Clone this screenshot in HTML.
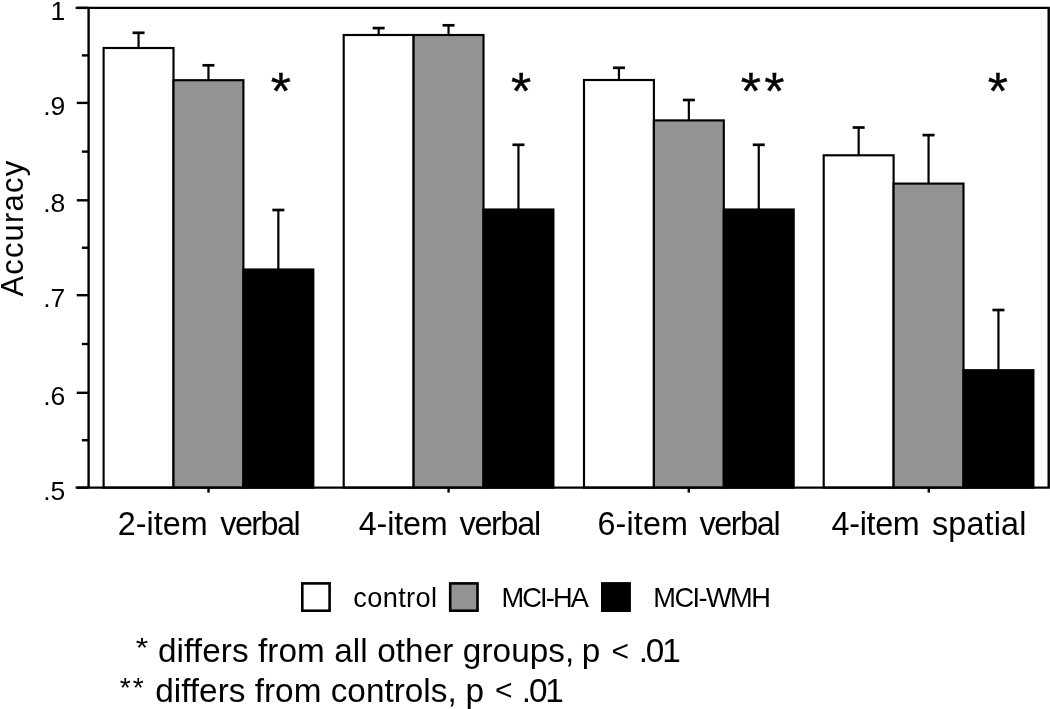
<!DOCTYPE html>
<html><head><meta charset="utf-8"><title>Accuracy by group and task</title>
<style>html,body{margin:0;padding:0;background:#fff;overflow:hidden;}svg{display:block;}text{font-family:"Liberation Sans",Arial,Helvetica,sans-serif;fill:#000;}</style>
</head><body>
<svg width="1050" height="709" viewBox="0 0 1050 709">
<rect x="0" y="0" width="1050" height="709" fill="#fff"/>
<rect x="103.60" y="48.00" width="69.90" height="439.65" fill="#ffffff" stroke="#000" stroke-width="2.15"/>
<line x1="138.55" y1="48.00" x2="138.55" y2="32.80" stroke="#000" stroke-width="2.2"/>
<line x1="132.55" y1="32.80" x2="144.55" y2="32.80" stroke="#000" stroke-width="2.70"/>
<rect x="173.50" y="80.20" width="69.90" height="407.45" fill="#939393" stroke="#000" stroke-width="2.15"/>
<line x1="208.45" y1="80.20" x2="208.45" y2="65.30" stroke="#000" stroke-width="2.2"/>
<line x1="202.45" y1="65.30" x2="214.45" y2="65.30" stroke="#000" stroke-width="2.70"/>
<rect x="243.40" y="269.50" width="69.90" height="218.15" fill="#000000" stroke="#000" stroke-width="2.15"/>
<line x1="278.35" y1="269.50" x2="278.35" y2="210.00" stroke="#000" stroke-width="2.2"/>
<line x1="272.35" y1="210.00" x2="284.35" y2="210.00" stroke="#000" stroke-width="2.70"/>
<rect x="343.70" y="35.00" width="69.90" height="452.65" fill="#ffffff" stroke="#000" stroke-width="2.15"/>
<line x1="378.65" y1="35.00" x2="378.65" y2="28.10" stroke="#000" stroke-width="2.2"/>
<line x1="372.65" y1="28.10" x2="384.65" y2="28.10" stroke="#000" stroke-width="2.70"/>
<rect x="413.60" y="35.00" width="69.90" height="452.65" fill="#939393" stroke="#000" stroke-width="2.15"/>
<line x1="448.55" y1="35.00" x2="448.55" y2="25.30" stroke="#000" stroke-width="2.2"/>
<line x1="442.55" y1="25.30" x2="454.55" y2="25.30" stroke="#000" stroke-width="2.70"/>
<rect x="483.50" y="209.50" width="69.90" height="278.15" fill="#000000" stroke="#000" stroke-width="2.15"/>
<line x1="518.45" y1="209.50" x2="518.45" y2="144.80" stroke="#000" stroke-width="2.2"/>
<line x1="512.45" y1="144.80" x2="524.45" y2="144.80" stroke="#000" stroke-width="2.70"/>
<rect x="584.00" y="80.00" width="69.90" height="407.65" fill="#ffffff" stroke="#000" stroke-width="2.15"/>
<line x1="618.95" y1="80.00" x2="618.95" y2="67.80" stroke="#000" stroke-width="2.2"/>
<line x1="612.95" y1="67.80" x2="624.95" y2="67.80" stroke="#000" stroke-width="2.70"/>
<rect x="653.90" y="120.40" width="69.90" height="367.25" fill="#939393" stroke="#000" stroke-width="2.15"/>
<line x1="688.85" y1="120.40" x2="688.85" y2="100.00" stroke="#000" stroke-width="2.2"/>
<line x1="682.85" y1="100.00" x2="694.85" y2="100.00" stroke="#000" stroke-width="2.70"/>
<rect x="723.80" y="209.50" width="69.90" height="278.15" fill="#000000" stroke="#000" stroke-width="2.15"/>
<line x1="758.75" y1="209.50" x2="758.75" y2="144.80" stroke="#000" stroke-width="2.2"/>
<line x1="752.75" y1="144.80" x2="764.75" y2="144.80" stroke="#000" stroke-width="2.70"/>
<rect x="823.70" y="155.30" width="69.90" height="332.35" fill="#ffffff" stroke="#000" stroke-width="2.15"/>
<line x1="858.65" y1="155.30" x2="858.65" y2="127.50" stroke="#000" stroke-width="2.2"/>
<line x1="852.65" y1="127.50" x2="864.65" y2="127.50" stroke="#000" stroke-width="2.70"/>
<rect x="893.60" y="183.60" width="69.90" height="304.05" fill="#939393" stroke="#000" stroke-width="2.15"/>
<line x1="928.55" y1="183.60" x2="928.55" y2="135.10" stroke="#000" stroke-width="2.2"/>
<line x1="922.55" y1="135.10" x2="934.55" y2="135.10" stroke="#000" stroke-width="2.70"/>
<rect x="963.50" y="370.20" width="69.90" height="117.45" fill="#000000" stroke="#000" stroke-width="2.15"/>
<line x1="998.45" y1="370.20" x2="998.45" y2="310.00" stroke="#000" stroke-width="2.2"/>
<line x1="992.45" y1="310.00" x2="1004.45" y2="310.00" stroke="#000" stroke-width="2.70"/>
<path d="M76.8 7.9 H1048.7 V487.65 H76.8 M88.6 7.9 V487.65" fill="none" stroke="#000" stroke-width="2.4" stroke-linecap="square"/>
<line x1="76.8" y1="7.9" x2="88.6" y2="7.9" stroke="#000" stroke-width="2.4"/>
<line x1="81.9" y1="55.40" x2="88.6" y2="55.40" stroke="#000" stroke-width="2.4"/>
<line x1="76.8" y1="102.9" x2="88.6" y2="102.9" stroke="#000" stroke-width="2.4"/>
<line x1="81.9" y1="151.60" x2="88.6" y2="151.60" stroke="#000" stroke-width="2.4"/>
<line x1="76.8" y1="200.3" x2="88.6" y2="200.3" stroke="#000" stroke-width="2.4"/>
<line x1="81.9" y1="247.75" x2="88.6" y2="247.75" stroke="#000" stroke-width="2.4"/>
<line x1="76.8" y1="295.2" x2="88.6" y2="295.2" stroke="#000" stroke-width="2.4"/>
<line x1="81.9" y1="344.00" x2="88.6" y2="344.00" stroke="#000" stroke-width="2.4"/>
<line x1="76.8" y1="392.8" x2="88.6" y2="392.8" stroke="#000" stroke-width="2.4"/>
<line x1="81.9" y1="440.23" x2="88.6" y2="440.23" stroke="#000" stroke-width="2.4"/>
<line x1="76.8" y1="487.65" x2="88.6" y2="487.65" stroke="#000" stroke-width="2.4"/>
<line x1="208.5" y1="487.65" x2="208.5" y2="492.6" stroke="#000" stroke-width="2.4"/>
<line x1="448.6" y1="487.65" x2="448.6" y2="492.6" stroke="#000" stroke-width="2.4"/>
<line x1="688.8" y1="487.65" x2="688.8" y2="492.6" stroke="#000" stroke-width="2.4"/>
<line x1="928.8" y1="487.65" x2="928.8" y2="492.6" stroke="#000" stroke-width="2.4"/>
<text x="65.3" y="19.80" font-size="26.5" text-anchor="end">1</text>
<text x="65.3" y="114.80" font-size="26.5" text-anchor="end">.9</text>
<text x="65.3" y="212.20" font-size="26.5" text-anchor="end">.8</text>
<text x="65.3" y="307.10" font-size="26.5" text-anchor="end">.7</text>
<text x="65.3" y="404.70" font-size="26.5" text-anchor="end">.6</text>
<text x="65.3" y="499.55" font-size="26.5" text-anchor="end">.5</text>
<text transform="translate(23.3,296.60) rotate(-90)" x="0" y="0" font-size="31.0" textLength="135.78" lengthAdjust="spacing">Accuracy</text>
<text x="117.70" y="534.7" font-size="32.3" textLength="90.03" lengthAdjust="spacing">2-item</text>
<text x="220.30" y="534.7" font-size="32.3" textLength="80.27" lengthAdjust="spacing">verbal</text>
<text x="358.70" y="534.7" font-size="32.3" textLength="89.03" lengthAdjust="spacing">4-item</text>
<text x="459.60" y="534.7" font-size="32.3" textLength="81.47" lengthAdjust="spacing">verbal</text>
<text x="597.50" y="534.7" font-size="32.3" textLength="90.43" lengthAdjust="spacing">6-item</text>
<text x="699.50" y="534.7" font-size="32.3" textLength="81.07" lengthAdjust="spacing">verbal</text>
<text x="831.60" y="534.7" font-size="32.3" textLength="88.13" lengthAdjust="spacing">4-item</text>
<text x="932.00" y="534.7" font-size="32.3" textLength="94.36" lengthAdjust="spacing">spatial</text>
<text x="280.95" y="109" font-size="52" text-anchor="middle" stroke="#000" stroke-width="0.35">*</text>
<text x="521.1" y="109" font-size="52" text-anchor="middle" stroke="#000" stroke-width="0.35">*</text>
<text x="750.95" y="109" font-size="52" text-anchor="middle" stroke="#000" stroke-width="0.35">*</text>
<text x="774.45" y="109" font-size="52" text-anchor="middle" stroke="#000" stroke-width="0.35">*</text>
<text x="997.9" y="109" font-size="52" text-anchor="middle" stroke="#000" stroke-width="0.35">*</text>
<rect x="302.3" y="583.4" width="27.3" height="27.3" fill="#fff" stroke="#000" stroke-width="2.6"/>
<rect x="450.2" y="583.4" width="27.3" height="27.3" fill="#939393" stroke="#000" stroke-width="2.6"/>
<rect x="602.3" y="583.4" width="27.3" height="27.3" fill="#000" stroke="#000" stroke-width="2.6"/>
<text x="353.30" y="606.9" font-size="27.2" textLength="83.71" lengthAdjust="spacing">control</text>
<text x="501.40" y="607.0" font-size="27.2" textLength="87.57" lengthAdjust="spacing">MCI-HA</text>
<text x="653.30" y="607.0" font-size="27.2" textLength="117.54" lengthAdjust="spacing">MCI-WMH</text>
<text x="158.00" y="662.4" font-size="33.3" textLength="416.34" lengthAdjust="spacing">differs from all other groups,</text>
<text x="581.80" y="662.4" font-size="33.3">p</text>
<text x="611.40" y="661.2" font-size="30">&lt;</text>
<text x="638.70" y="662.4" font-size="33.3" textLength="42.00" lengthAdjust="spacing">.01</text>
<text x="155.20" y="701.6" font-size="33.3" textLength="301.52" lengthAdjust="spacing">differs from controls,</text>
<text x="465.40" y="701.6" font-size="33.3">p</text>
<text x="495.00" y="700.4" font-size="30">&lt;</text>
<text x="521.80" y="701.6" font-size="33.3" textLength="42.00" lengthAdjust="spacing">.01</text>
<text transform="translate(142.3,643.45) scale(1.0,0.85)" x="-6.5" y="16.5" font-size="32">*</text>
<text transform="translate(125.35,682.95) scale(0.88,0.86)" x="-6.5" y="16.5" font-size="32">*</text>
<text transform="translate(138.45,682.95) scale(0.88,0.86)" x="-6.5" y="16.5" font-size="32">*</text>
</svg>
</body></html>
